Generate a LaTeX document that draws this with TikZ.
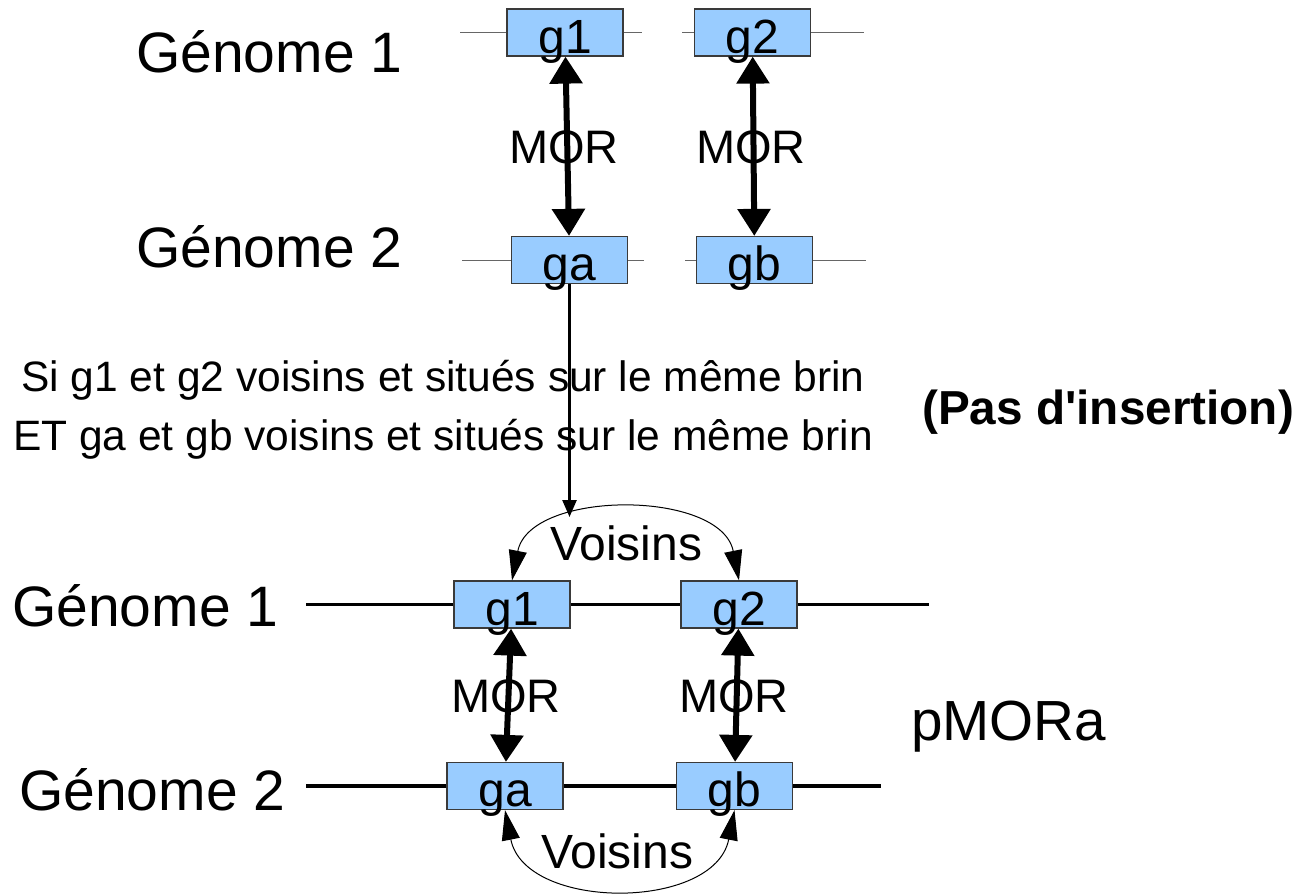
\documentclass[tikz,border=0pt]{standalone}
\usepackage{fontspec}
\setmainfont{Liberation Sans}[Ligatures=TeXOff]
\usetikzlibrary{arrows.meta}
\definecolor{genefill}{HTML}{99CCFF}
\definecolor{geneedge}{HTML}{3A3A3A}
\begin{document}
\begin{tikzpicture}[x=1pt,y=-1pt]
        \tikzset{gene/.style = {shape=rectangle,draw=geneedge,line width=1.2pt,fill=genefill,minimum width=116pt,minimum height=47pt,inner sep=0pt,text height=41pt,text depth=0pt,font=\fontsize{48}{56}\selectfont}}
        \tikzset{txt/.style = {anchor=base west,inner sep=0pt}}
        \tikzset{big/.style = {font=\fontsize{57}{68}\selectfont}}
        \tikzset{mid/.style = {font=\fontsize{47}{56}\selectfont}}
        \tikzset{strand/.style = {draw=black!60,line width=1pt}}
        \tikzset{chrom/.style = {draw=black,line width=3.5pt}}
        \tikzset{mor/.style = {{Triangle[width=32pt,length=27pt]}-{Triangle[width=32pt,length=27pt]},line width=6pt}}
        \tikzset{voisin/.style = {{Triangle[width=18pt,length=30pt]}-{Triangle[width=18pt,length=30pt]},line width=1pt}}
        \tikzset{drop/.style = {-{Triangle[width=14pt,length=17pt]},line width=2.5pt}}
        \useasboundingbox (0,0) rectangle (1305,894);
        % genes before the test
        \node[gene] (g1) at (565,32.5) {g1};
        \node[gene] (g2) at (752.5,32.5) {g2};
        \node[gene] (ga) at (569.5,260) {ga};
        \node[gene] (gb) at (754.5,260) {gb};
        \draw[strand] (g1.west) -- ++(-46,0);
        \draw[strand] (g1.east) -- ++(18,0);
        \draw[strand] (g2.west) -- ++(-12,0);
        \draw[strand] (g2.east) -- ++(53,0);
        \draw[strand] (ga.west) -- ++(-49,0);
        \draw[strand] (ga.east) -- ++(16,0);
        \draw[strand] (gb.west) -- ++(-11,0);
        \draw[strand] (gb.east) -- ++(53,0);
        \node[txt,big] (lg1) at (136,72) {Génome 1};
        \node[txt,big] (lg2) at (136,267) {Génome 2};
        \node[txt,mid] (mor1) at (509,163) {MOR};
        \node[txt,mid] (mor2) at (696,163) {MOR};
        \draw[mor] (g1) -- (ga);
        \draw[mor] (g2) -- (gb);
        % condition
        \node[anchor=base,inner sep=0pt,font=\fontsize{42.5}{50}\selectfont] (cond1) at (443,391) {Si g1 et g2 voisins et situés sur le même brin};
        \node[anchor=base,inner sep=0pt,font=\fontsize{42.5}{50}\selectfont] (cond2) at (443,450) {ET ga et gb voisins et situés sur le même brin};
        \node[txt,font=\fontsize{47.7}{57}\selectfont\bfseries] (noins) at (922,424) {(Pas d'insertion)};
        \coordinate (drophere) at (567,517);
        \draw[drop] (ga.south) -- (ga.south |- drophere);
        % genes of the pMORa
        \node[gene] (p1) at (512,604.5) {g1};
        \node[gene] (p2) at (739,604.5) {g2};
        \node[gene] (pa) at (505,786) {ga};
        \node[gene] (pb) at (734.5,786) {gb};
        \draw[chrom] (p1.west) -- ++(-147,0);
        \draw[chrom] (p1.east) -- (p2.west);
        \draw[chrom] (p2.east) -- ++(131,0);
        \draw[chrom] (pa.west) -- ++(-140,0);
        \draw[chrom] (pa.east) -- (pb.west);
        \draw[chrom] (pb.east) -- ++(88,0);
        \node[txt,big] (lp1) at (12,626) {Génome 1};
        \node[txt,big] (lp2) at (19,810) {Génome 2};
        \node[txt,mid] (mor3) at (451,712) {MOR};
        \node[txt,mid] (mor4) at (679,712) {MOR};
        \draw[mor] (p1) -- (pa);
        \draw[mor] (p2) -- (pb);
        \node[txt,font=\fontsize{48}{58}\selectfont] (vois1) at (550,560) {Voisins};
        \node[txt,font=\fontsize{48}{58}\selectfont] (vois2) at (541,868) {Voisins};
        \draw[voisin] (p1.north) .. controls +(18,-91) and +(-18,-91) .. (p2.north);
        \draw[voisin] (pa.south) .. controls +(20,101) and +(-20,101) .. (pb.south);
        \node[txt,font=\fontsize{56.6}{68}\selectfont] (pmora) at (911,740) {pMORa};
\end{tikzpicture}
\end{document}
